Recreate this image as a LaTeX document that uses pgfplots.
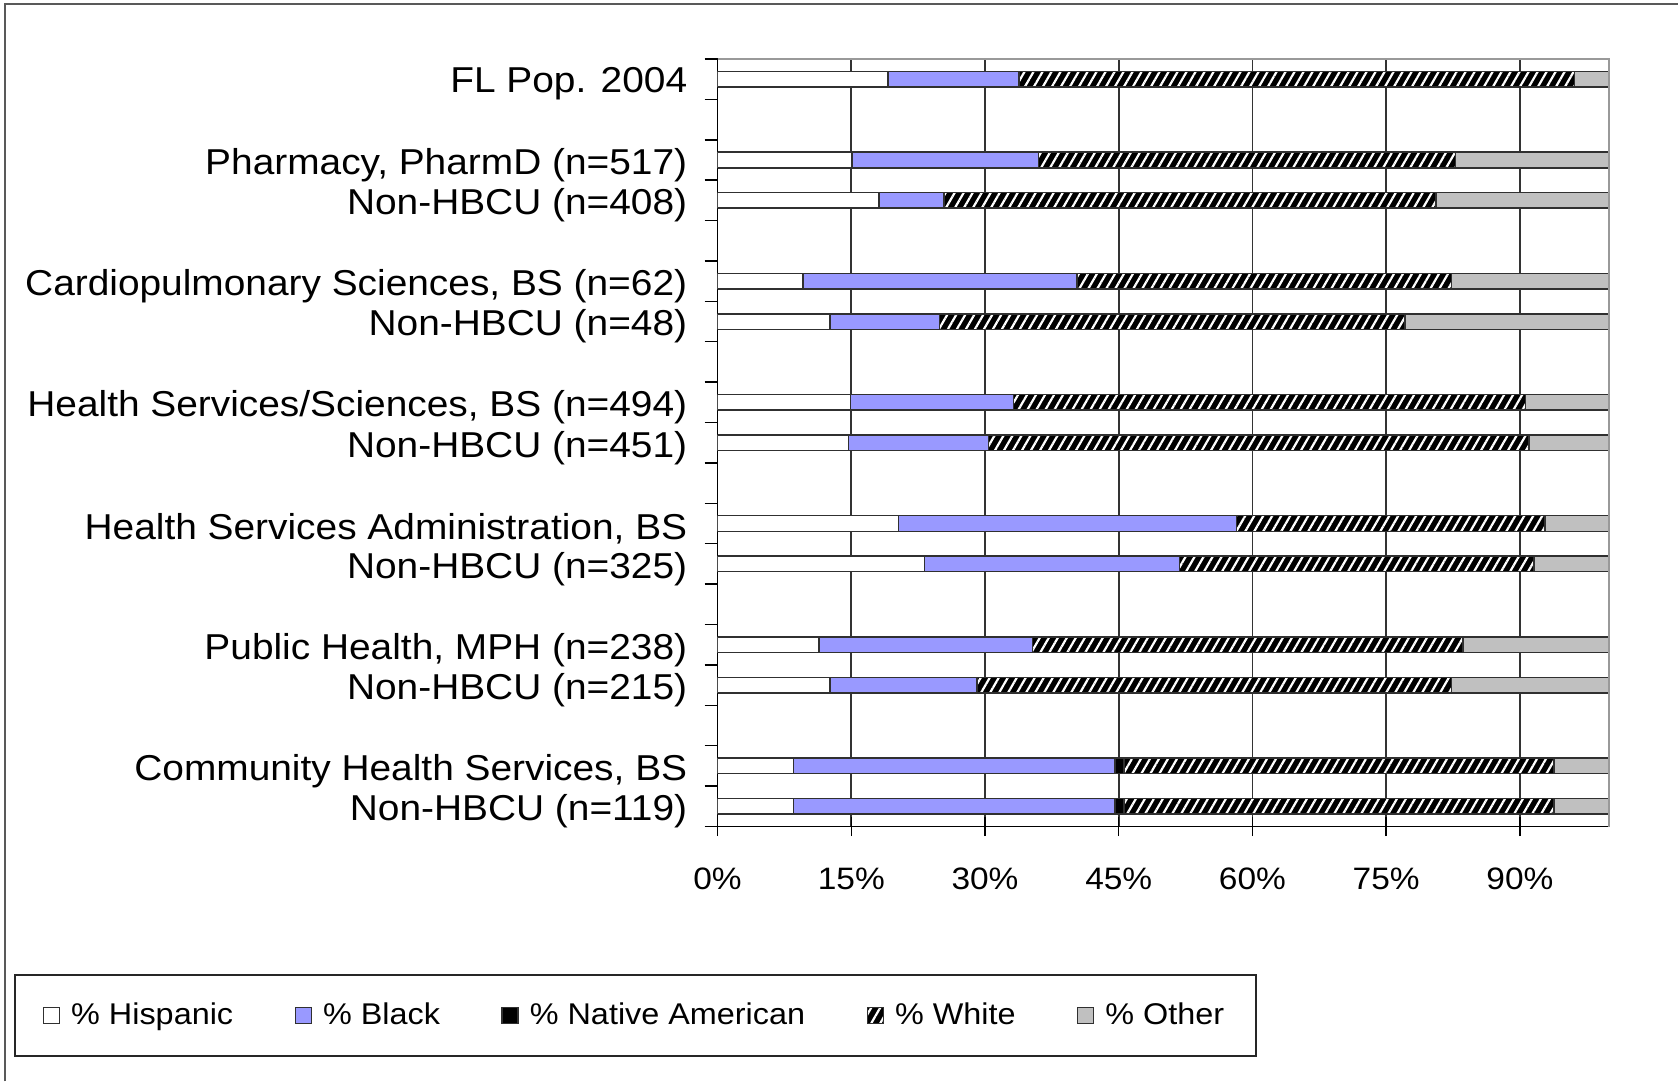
\documentclass[border=0pt]{standalone}
\usepackage{pgfplots}
\pgfplotsset{compat=1.18}
\usepackage{pgfplotstable}
\usetikzlibrary{patterns.meta}
\usepackage{fontspec}
\setmainfont{Liberation Sans}[FakeStretch=1.08]

\definecolor{blk}{HTML}{9999FF}
\definecolor{oth}{HTML}{C0C0C0}
\definecolor{edge}{HTML}{303030}

% row = position from the bottom (blank rows are left out)
\pgfplotstableread{
row hisp black native white other
19 19.1 14.7 0   62.3 3.9
17 15.1 20.9 0   46.8 17.2
16 18.1 7.3  0   55.2 19.4
14 9.6  30.7 0   42.0 17.7
13 12.6 12.3 0   52.2 22.9
11 14.9 18.3 0   57.4 9.4
10 14.7 15.7 0   60.6 9.0
8  20.3 37.9 0   34.6 7.2
7  23.2 28.6 0   39.8 8.4
5  11.4 23.9 0   48.3 16.4
4  12.6 16.5 0   53.2 17.7
2  8.5  36.1 1.0 48.2 6.2
1  8.5  36.1 1.0 48.2 6.2
}\enroll

\begin{document}
\begin{tikzpicture}
\path (0,0) rectangle (839.5pt,541pt);
\draw[black!65, line width=1pt] (2.5pt,0) -- (2.5pt,539pt) -- (839.5pt,539pt);
\begin{axis}[
  at={(359pt,127.5pt)}, anchor=south west,
  scale only axis, width=446pt, height=384pt,
  xbar stacked, bar width=7.8pt,
  xmin=0, xmax=100, ymin=0.5, ymax=19.5,
  axis x line=bottom, axis y line=left,
  axis line style={-, line width=0.75pt, black},
  xtick={0,15,...,90},
  xticklabel={\pgfmathprintnumber{\tick}\%},
  /pgf/number format/assume math mode=true,
  xticklabel style={font=\fontsize{15.5}{18}\selectfont, yshift=-12.3pt},
  ytick={1,...,19},
  yticklabels={{Non-HBCU (n=119)}, {Community Health Services, BS}, {},
    {Non-HBCU (n=215)}, {Public Health, MPH (n=238)}, {},
    {Non-HBCU (n=325)}, {Health Services Administration, BS}, {},
    {Non-HBCU (n=451)}, {Health Services/Sciences, BS (n=494)}, {},
    {Non-HBCU (n=48)}, {Cardiopulmonary Sciences, BS (n=62)}, {},
    {Non-HBCU (n=408)}, {Pharmacy, PharmD (n=517)}, {},
    {FL Pop. 2004}},
  yticklabel style={font=\fontsize{18}{21}\selectfont, anchor=east, inner sep=0pt,
    xshift=-5.5pt, yshift=-2.5pt},
  minor ytick={0.5,1.5,...,19.5},
  major tick length=9.5pt, minor tick length=6.5pt,
  xtick align=center, ytick align=outside,
  major y tick style={draw=none},
  minor y tick style={line width=0.75pt, black},
  major x tick style={line width=0.75pt, black},
  xmajorgrids, major x grid style={black!80, line width=0.85pt},
  every axis plot/.append style={draw=edge, line width=0.75pt},
  legend image code/.code={\draw[#1] (0pt,-4pt) rectangle (8pt,4pt);},
  legend columns=5,
  legend style={at={(-0.7892,-0.1927)}, anchor=north west,
    draw=black!85, line width=0.75pt,
    font=\fontsize{15}{18}\selectfont,
    inner xsep=14pt, inner ysep=12pt,
    /tikz/every odd column/.append style={column sep=3.5pt},
    /tikz/every even column/.append style={column sep=28.7pt}},
  after end axis/.code={
    \draw[black!40, line width=0.75pt] (axis description cs:0,1) -- (axis description cs:1,1) -- (axis description cs:1,0);
  },
]
\addplot[fill=white] table[x=hisp, y=row] {\enroll};
\addplot[fill=blk] table[x=black, y=row] {\enroll};
\addplot[fill=black] table[x=native, y=row] {\enroll};
\addplot[fill=black, postaction={pattern={Lines[angle=60, distance=3.9pt, line width=1.1pt]}, pattern color=white}] table[x=white, y=row] {\enroll};
\addplot[fill=oth] table[x=other, y=row] {\enroll};
\legend{\% Hispanic, \% Black, \% Native American, \% White, \% Other}
\end{axis}
\end{tikzpicture}
\end{document}
